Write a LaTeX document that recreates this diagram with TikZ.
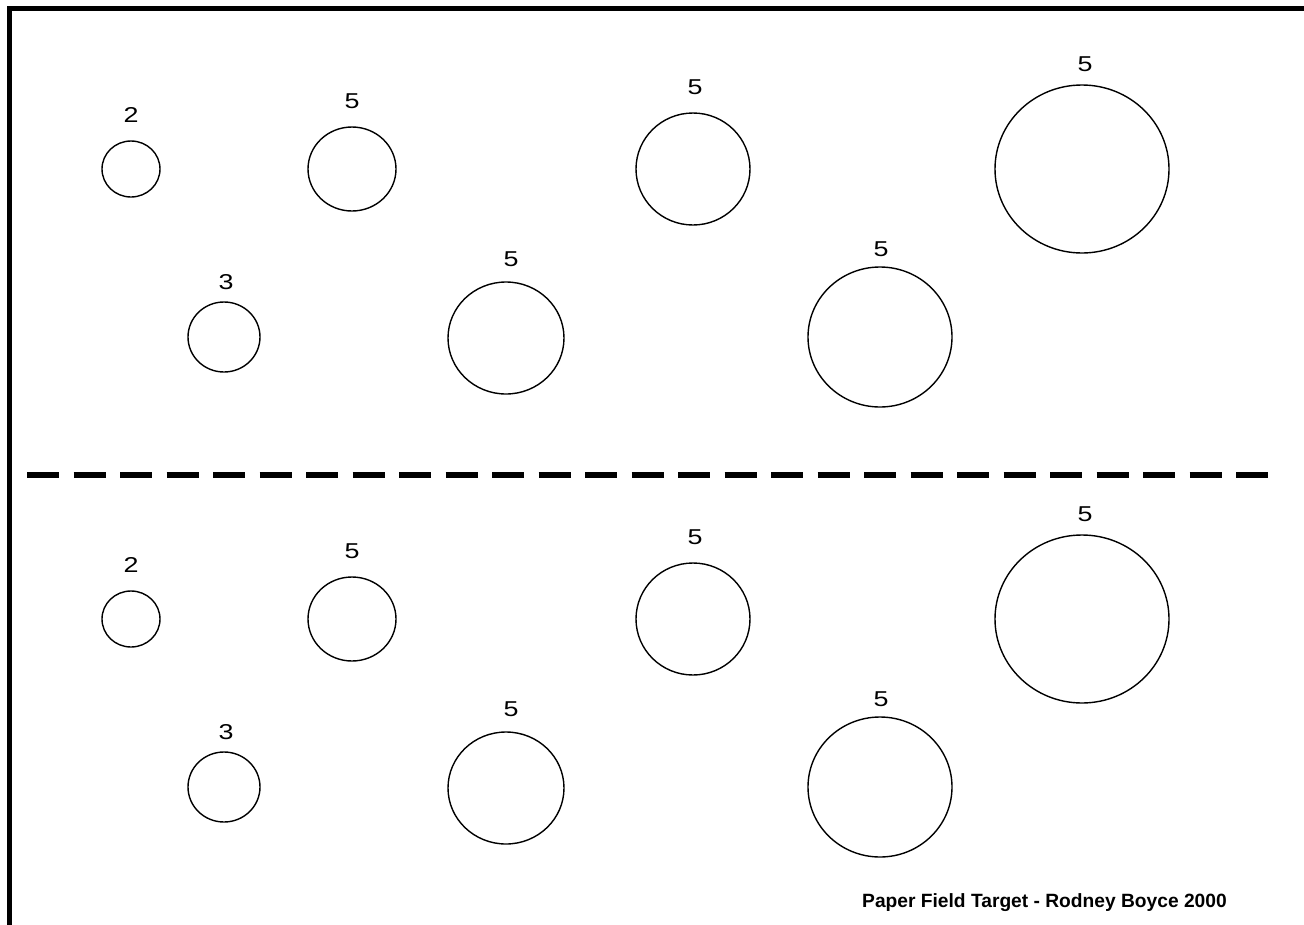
\documentclass[tikz,border=0pt]{standalone}
\usepackage{fontspec}
\setmainfont{Liberation Sans}
\usetikzlibrary{shapes.geometric}
\begin{document}
\begin{tikzpicture}[x=1pt,y=-1pt,
  target/.style={draw=black, line width=1.4pt, ellipse, inner sep=0pt},
  num/.style={font=\fontsize{21.5}{22}\selectfont, xscale=1.25, inner sep=0pt},
  caption/.style={font=\fontsize{19.2}{20}\selectfont\bfseries, inner sep=0pt, anchor=base west}]
\useasboundingbox (0,0) rectangle (1304,924);
\clip (0,0) rectangle (1304,924);
\fill[white] (0,0) rectangle (1304,924);
% frame
\draw[line width=5pt] (9.5,960) -- (9.5,8.5) -- (1340,8.5);
% dashed divider
\coordinate (dl) at (27,475);
\coordinate (dr) at (1268,475);
\draw[line width=5.5pt, dash pattern=on 32pt off 14.5pt] (dl) -- (dr);
% targets, two identical halves
\foreach \dy/\h in {0/a,450/b}{
  \node[target, minimum width=58pt, minimum height=56pt] (t1\h) at (131,169+\dy) {};
  \node[num] (n1\h) at (131,115+\dy) {2};
  \node[target, minimum width=88pt, minimum height=84pt] (t2\h) at (352,169+\dy) {};
  \node[num] (n2\h) at (352,101+\dy) {5};
  \node[target, minimum width=114pt, minimum height=112pt] (t3\h) at (693,169+\dy) {};
  \node[num] (n3\h) at (695,87+\dy) {5};
  \node[target, minimum width=174pt, minimum height=168pt] (t4\h) at (1082,169+\dy) {};
  \node[num] (n4\h) at (1085,64+\dy) {5};
  \node[target, minimum width=72pt, minimum height=70pt] (t5\h) at (224,337+\dy) {};
  \node[num] (n5\h) at (226,282+\dy) {3};
  \node[target, minimum width=116pt, minimum height=112pt] (t6\h) at (506,338+\dy) {};
  \node[num] (n6\h) at (511,259+\dy) {5};
  \node[target, minimum width=144pt, minimum height=140pt] (t7\h) at (880,337+\dy) {};
  \node[num] (n7\h) at (881,249+\dy) {5};
}
\node[caption] (cap) at (862,907) {Paper Field Target - Rodney Boyce 2000};
\end{tikzpicture}
\end{document}
